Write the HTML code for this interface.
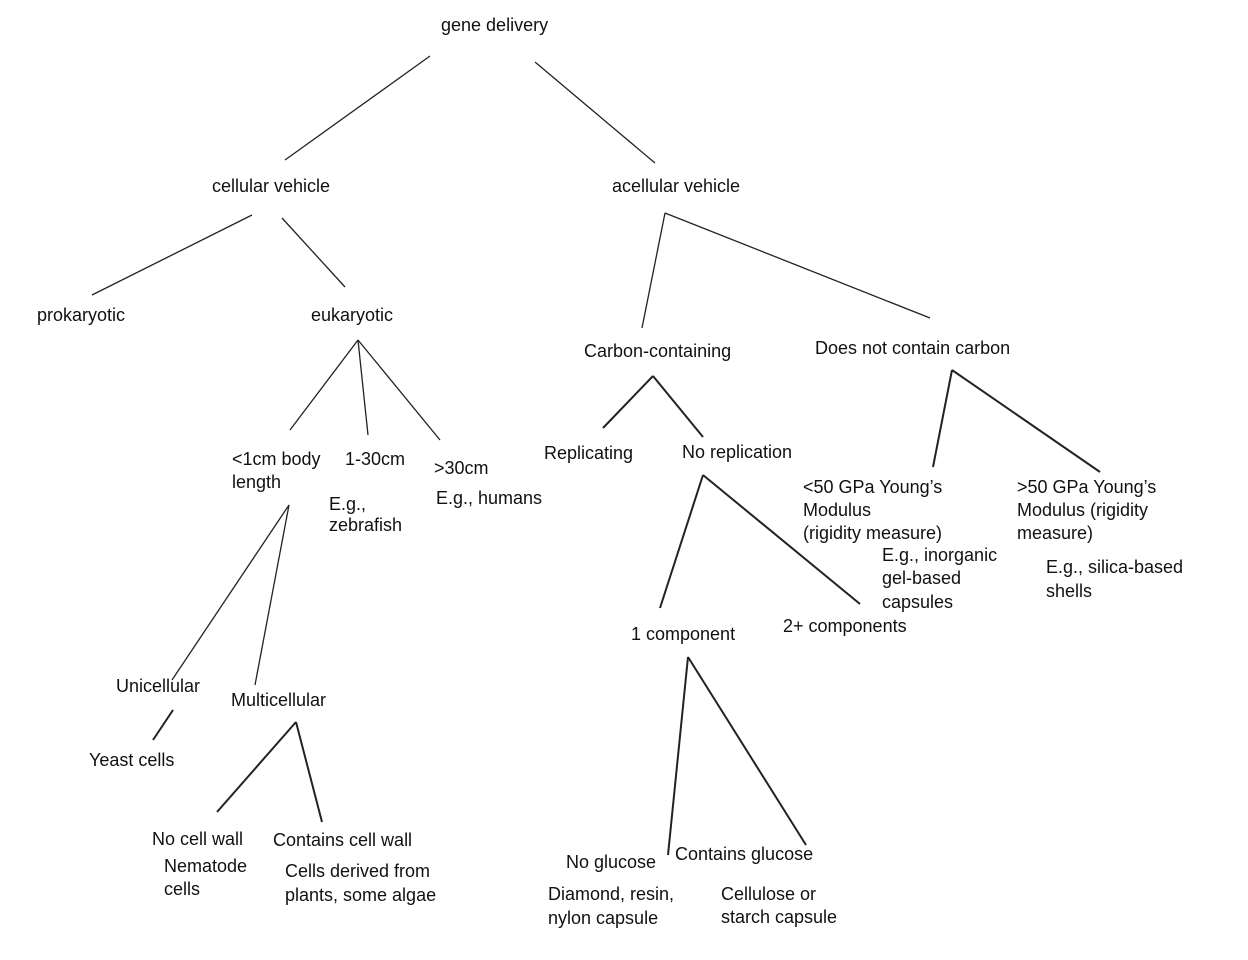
<!DOCTYPE html>
<html><head><meta charset="utf-8"><style>
html,body{margin:0;padding:0;background:#fff;}
svg{display:block;}
text{font-family:"Liberation Sans",Arial,sans-serif;font-size:18px;fill:#111;}
</style></head><body>
<svg width="1248" height="960" viewBox="0 0 1248 960">
<g stroke="#222" fill="none">
<line x1="430" y1="56" x2="285" y2="160" stroke-width="1.3"/>
<line x1="535" y1="62" x2="655" y2="163" stroke-width="1.3"/>
<line x1="252" y1="215" x2="92" y2="295" stroke-width="1.3"/>
<line x1="282" y1="218" x2="345" y2="287" stroke-width="1.3"/>
<line x1="358" y1="340" x2="290" y2="430" stroke-width="1.3"/>
<line x1="358" y1="340" x2="368" y2="435" stroke-width="1.3"/>
<line x1="358" y1="340" x2="440" y2="440" stroke-width="1.3"/>
<line x1="665" y1="213" x2="642" y2="328" stroke-width="1.3"/>
<line x1="665" y1="213" x2="930" y2="318" stroke-width="1.3"/>
<line x1="653" y1="376" x2="603" y2="428" stroke-width="2"/>
<line x1="653" y1="376" x2="703" y2="437" stroke-width="2"/>
<line x1="952" y1="370" x2="933" y2="467" stroke-width="2"/>
<line x1="952" y1="370" x2="1100" y2="472" stroke-width="2"/>
<line x1="289" y1="505" x2="172" y2="680" stroke-width="1.3"/>
<line x1="289" y1="505" x2="255" y2="685" stroke-width="1.3"/>
<line x1="703" y1="475" x2="660" y2="608" stroke-width="2"/>
<line x1="703" y1="475" x2="860" y2="604" stroke-width="2"/>
<line x1="688" y1="657" x2="668" y2="855" stroke-width="2"/>
<line x1="688" y1="657" x2="806" y2="845" stroke-width="2"/>
<line x1="173" y1="710" x2="153" y2="740" stroke-width="2"/>
<line x1="296" y1="722" x2="217" y2="812" stroke-width="2"/>
<line x1="296" y1="722" x2="322" y2="822" stroke-width="2"/>
</g>
<text x="441" y="31">gene delivery</text>
<text x="212" y="192">cellular vehicle</text>
<text x="612" y="192">acellular vehicle</text>
<text x="37" y="321">prokaryotic</text>
<text x="311" y="321">eukaryotic</text>
<text x="584" y="357">Carbon-containing</text>
<text x="815" y="354">Does not contain carbon</text>
<text x="544" y="459">Replicating</text>
<text x="682" y="458">No replication</text>
<text x="232" y="465">&lt;1cm body</text>
<text x="232" y="488">length</text>
<text x="345" y="465">1-30cm</text>
<text x="329" y="510">E.g.,</text>
<text x="329" y="531">zebrafish</text>
<text x="434" y="474">&gt;30cm</text>
<text x="436" y="504">E.g., humans</text>
<text x="803" y="493">&lt;50 GPa Young’s</text>
<text x="803" y="516">Modulus</text>
<text x="803" y="539">(rigidity measure)</text>
<text x="882" y="561">E.g., inorganic</text>
<text x="882" y="584">gel-based</text>
<text x="882" y="608">capsules</text>
<text x="1017" y="493">&gt;50 GPa Young’s</text>
<text x="1017" y="516">Modulus (rigidity</text>
<text x="1017" y="539">measure)</text>
<text x="1046" y="573">E.g., silica-based</text>
<text x="1046" y="597">shells</text>
<text x="631" y="640">1 component</text>
<text x="783" y="632">2+ components</text>
<text x="116" y="692">Unicellular</text>
<text x="231" y="706">Multicellular</text>
<text x="89" y="766">Yeast cells</text>
<text x="152" y="845">No cell wall</text>
<text x="164" y="872">Nematode</text>
<text x="164" y="895">cells</text>
<text x="273" y="846">Contains cell wall</text>
<text x="285" y="877">Cells derived from</text>
<text x="285" y="901">plants, some algae</text>
<text x="566" y="868">No glucose</text>
<text x="675" y="860">Contains glucose</text>
<text x="548" y="900">Diamond, resin,</text>
<text x="548" y="924">nylon capsule</text>
<text x="721" y="900">Cellulose or</text>
<text x="721" y="923">starch capsule</text>
</svg>
</body></html>
